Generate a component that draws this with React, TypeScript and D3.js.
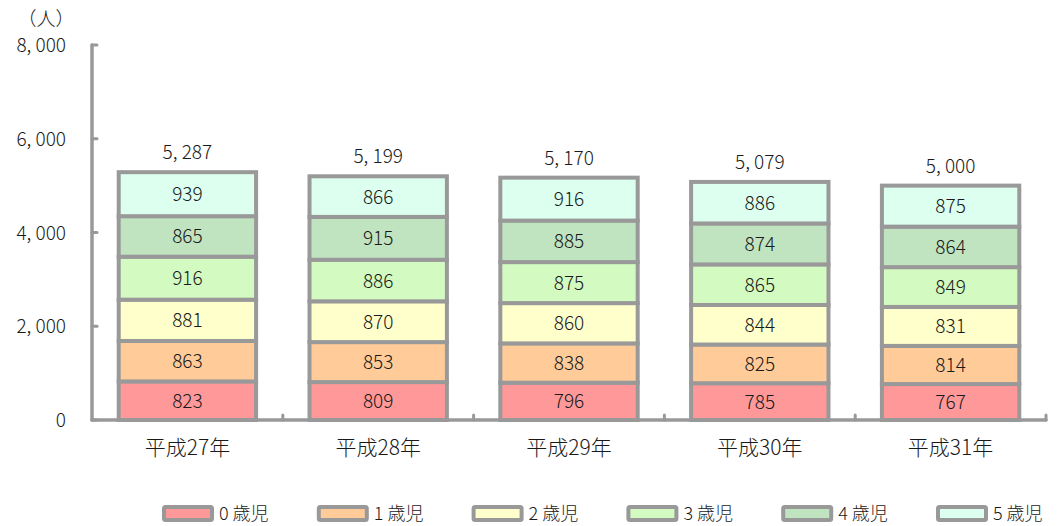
import React from "react";
import * as d3 from "d3";

const categories = ["平成27年", "平成28年", "平成29年", "平成30年", "平成31年"];
const seriesNames = ["0歳児", "1歳児", "2歳児", "3歳児", "4歳児", "5歳児"];
const legendLabels = ["0 歳児", "1 歳児", "2 歳児", "3 歳児", "4 歳児", "5 歳児"];
const age0 = [823, 809, 796, 785, 767];
const age1 = [863, 853, 838, 825, 814];
const age2 = [881, 870, 860, 844, 831];
const age3 = [916, 886, 875, 865, 849];
const age4 = [865, 915, 885, 874, 864];
const age5 = [939, 866, 916, 886, 875];
const totals = [5287, 5199, 5170, 5079, 5000];
const yTicks = [0, 2000, 4000, 6000, 8000];
const colors = ["#FF9999", "#FFCC99", "#FFFFCC", "#D3FAC0", "#C0E3C0", "#DCFFF0"];

const W = 1058, H = 526;
const left = 92, right = 1046, top = 45, bottom = 420;
const font = "'Noto Sans CJK JP', 'Noto Sans', sans-serif";
const gray = "#999999";
const fw = 300;
const fc = "#1a1a1a";

export default function App() {
  const series = [age0, age1, age2, age3, age4, age5];
  const rows = categories.map((c, i) => {
    const r: any = { cat: c };
    seriesNames.forEach((s, k) => (r[s] = series[k][i]));
    return r;
  });
  const stacked = d3.stack().keys(seriesNames)(rows);
  const x = d3.scaleBand().domain(categories).range([left, right]).paddingInner(0.28).paddingOuter(0.14);
  const xb = d3.scaleBand().domain(categories).range([left, right]);
  const y = d3.scaleLinear().domain([0, 8000]).range([bottom, top]);
  const fmt = (v: number) => d3.format(",")(v).replace(",", ", ");

  return (
    <svg width={W} height={H} style={{ position: "absolute", left: 0, top: 0 }}>
      <rect width={W} height={H} fill="#fff" />
      <text x={46} y={26} fontFamily={font} fontWeight={fw} fontSize={19} textAnchor="middle" fill={fc}>（人）</text>
      {yTicks.map((t) => (
        <g key={t}>
          <text x={66} y={y(t) + 7} fontFamily={font} fontWeight={fw} fontSize={19} textAnchor="end" fill={fc}>{fmt(t)}</text>
          <line x1={left} x2={left + 5} y1={y(t)} y2={y(t)} stroke={gray} strokeWidth={3} strokeLinecap="round" />
        </g>
      ))}
      {stacked.map((s, k) =>
        s.map((d, i) => {
          const x0 = x(categories[i])!;
          const y0 = y(d[1]);
          const h = y(d[0]) - y(d[1]);
          return (
            <g key={`${k}-${i}`}>
              <rect x={x0} y={y0} width={x.bandwidth()} height={h} fill={colors[k]} stroke={gray} strokeWidth={4} />
              <text x={x0 + x.bandwidth() / 2} y={y0 + h / 2 + 7} fontFamily={font} fontWeight={fw} fontSize={19} textAnchor="middle" fill={fc}>
                {series[k][i]}
              </text>
            </g>
          );
        })
      )}
      {categories.map((c, i) => (
        <text key={c} x={x(c)! + x.bandwidth() / 2} y={y(totals[i]) - 13} fontFamily={font} fontWeight={fw} fontSize={19} textAnchor="middle" fill={fc}>
          {fmt(totals[i])}
        </text>
      ))}
      <line x1={left} x2={left} y1={top} y2={bottom} stroke={gray} strokeWidth={3.5} strokeLinecap="round" />
      <line x1={left} x2={right} y1={bottom} y2={bottom} stroke={gray} strokeWidth={3.5} strokeLinecap="round" />
      {categories.map((c) => (
        <line key={c} x1={xb(c)! + xb.bandwidth()} x2={xb(c)! + xb.bandwidth()} y1={bottom} y2={bottom - 5} stroke={gray} strokeWidth={3} strokeLinecap="round" />
      ))}
      {categories.map((c) => (
        <text key={c} x={xb(c)! + xb.bandwidth() / 2} y={455} fontFamily={font} fontWeight={fw} fontSize={21} textAnchor="middle" fill={fc}>{c}</text>
      ))}
      {legendLabels.map((l, k) => {
        const lx = 164 + k * 154.8;
        return (
          <g key={l}>
            <rect x={lx} y={507} width={48} height={13} fill={colors[k]} stroke={gray} strokeWidth={4} rx={1.5} />
            <text x={lx + 55} y={520} fontFamily={font} fontWeight={fw} fontSize={18} fill={fc}>{l}</text>
          </g>
        );
      })}
    </svg>
  );
}
